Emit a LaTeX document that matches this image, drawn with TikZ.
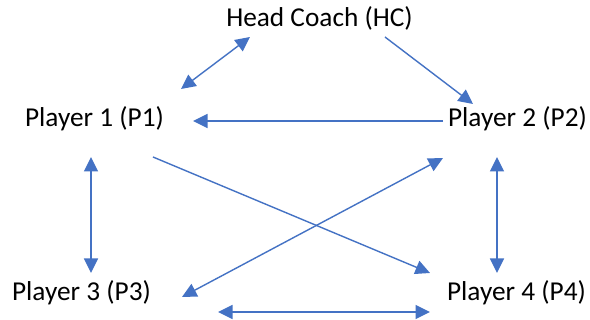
\documentclass[tikz,border=0pt]{standalone}
\usepackage{fontspec}
\setmainfont{Carlito}
\usetikzlibrary{arrows.meta}
\definecolor{lnblue}{HTML}{4472C4}
\begin{document}
\begin{tikzpicture}[x=1pt,y=-1pt,
  lbl/.style={inner sep=0pt,anchor=base,font=\fontsize{27.3}{30}\selectfont,text=black},
  conn/.style={draw=lnblue,line width=1.4pt,-{Triangle[length=14.5pt,width=14pt]}},
  dconn/.style={draw=lnblue,line width=1.4pt,{Triangle[length=14.5pt,width=14pt]}-{Triangle[length=14.5pt,width=14pt]}}]
\useasboundingbox (0,0) rectangle (590,320);
\fill[white] (0,0) rectangle (590,320);
\node[lbl] (hc) at (319.5,27) {Head Coach (HC)};
\node[lbl] (p1) at (94.5,127) {Player 1 (P1)};
\node[lbl] (p2) at (517.5,127) {Player 2 (P2)};
\node[lbl] (p3) at (81.5,301) {Player 3 (P3)};
\node[lbl] (p4) at (516.5,301) {Player 4 (P4)};
% connector end points
\coordinate (hcA) at (250,37);
\coordinate (p1A) at (181,89);
\coordinate (hcB) at (385,37);
\coordinate (p2A) at (473,104);
\coordinate (p2B) at (443,121);
\coordinate (p1B) at (193,121);
\coordinate (p1C) at (153,157);
\coordinate (p4A) at (430,273);
\coordinate (p3A) at (182,297);
\coordinate (p2C) at (443,158);
\coordinate (p1D) at (91,157);
\coordinate (p3B) at (91,273);
\coordinate (p2D) at (497,157);
\coordinate (p4B) at (497,273);
\coordinate (p3C) at (218,312);
\coordinate (p4C) at (430,312);
\draw[dconn] (p1A) -- (hcA);
\draw[conn] (hcB) -- (p2A);
\draw[conn] (p2B) -- (p1B);
\draw[conn] (p1C) -- (p4A);
\draw[dconn] (p3A) -- (p2C);
\draw[dconn] (p1D) -- (p3B);
\draw[dconn] (p2D) -- (p4B);
\draw[dconn] (p3C) -- (p4C);
\end{tikzpicture}
\end{document}
